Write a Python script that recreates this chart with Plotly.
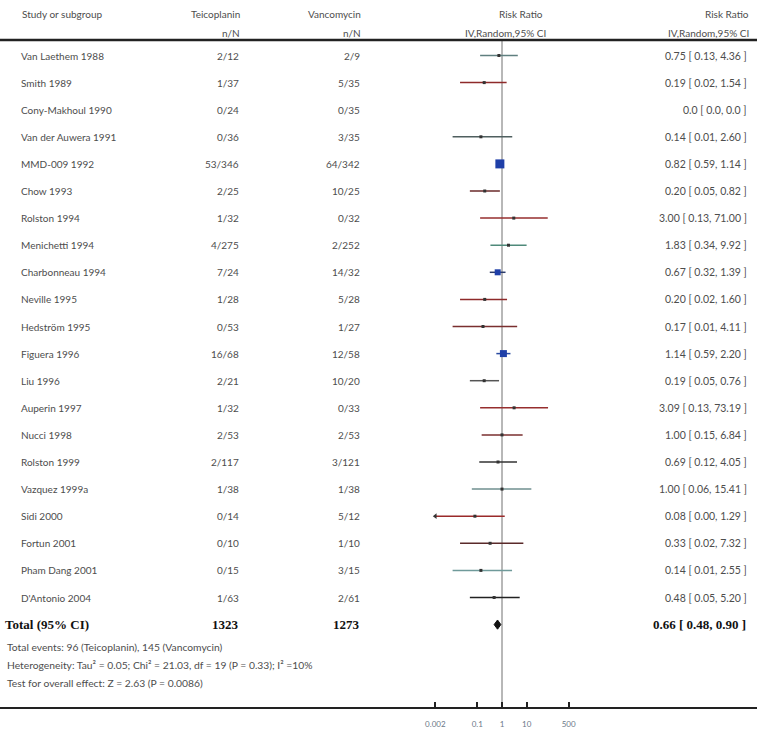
import plotly.graph_objects as go

# ---------------- data ----------------
studies = ["Van Laethem 1988", "Smith 1989", "Cony-Makhoul 1990", "Van der Auwera 1991",
           "MMD-009 1992", "Chow 1993", "Rolston 1994", "Menichetti 1994",
           "Charbonneau 1994", "Neville 1995", "Hedström 1995", "Figuera 1996",
           "Liu 1996", "Auperin 1997", "Nucci 1998", "Rolston 1999", "Vazquez 1999a",
           "Sidi 2000", "Fortun 2001", "Pham Dang 2001", "D'Antonio 2004"]
teico = ["2/12", "1/37", "0/24", "0/36", "53/346", "2/25", "1/32", "4/275", "7/24", "1/28",
         "0/53", "16/68", "2/21", "1/32", "2/53", "2/117", "1/38", "0/14", "0/10", "0/15", "1/63"]
vanco = ["2/9", "5/35", "0/35", "3/35", "64/342", "10/25", "0/32", "2/252", "14/32", "5/28",
         "1/27", "12/58", "10/20", "0/33", "2/53", "3/121", "1/38", "5/12", "1/10", "3/15", "2/61"]
rr = [0.75, 0.19, 0.0, 0.14, 0.82, 0.20, 3.00, 1.83, 0.67, 0.20, 0.17, 1.14, 0.19, 3.09,
      1.00, 0.69, 1.00, 0.08, 0.33, 0.14, 0.48]
lo = [0.13, 0.02, 0.0, 0.01, 0.59, 0.05, 0.13, 0.34, 0.32, 0.02, 0.01, 0.59, 0.05, 0.13,
      0.15, 0.12, 0.06, 0.00, 0.02, 0.01, 0.05]
hi = [4.36, 1.54, 0.0, 2.60, 1.14, 0.82, 71.00, 9.92, 1.39, 1.60, 4.11, 2.20, 0.76, 73.19,
      6.84, 4.05, 15.41, 1.29, 7.32, 2.55, 5.20]
total_label = "Total (95% CI)"
total_teico = 1323
total_vanco = 1273
total_rr, total_lo, total_hi = 0.66, 0.48, 0.90
tick_vals = [0.002, 0.1, 1, 10, 500]
tick_text = ["0.002", "0.1", "1", "10", "500"]
footer = ["Total events: 96 (Teicoplanin), 145 (Vancomycin)",
          "Heterogeneity: Tau² = 0.05; Chi² = 21.03, df = 19 (P = 0.33); I² =10%",
          "Test for overall effect: Z = 2.63 (P = 0.0086)"]

# ---------------- styles ----------------
W, H = 757, 738
BODY = "Lato"
TXT = "#4d4d4d"
line_colors = ["#5f7f7f", "#8e2a2a", "#555555", "#4f5f5f", "#2a4aa0", "#6a2a2a", "#962e2e",
               "#4f8a7a", "#2a3a6a", "#8e2a2a", "#7a2f2f", "#2a4aa0", "#555555", "#962e2e",
               "#7a2f2f", "#333333", "#6f8f8f", "#9a2a2a", "#5a2a2a", "#6f9a9a", "#222222"]
box_px = [3, 3, 3, 3, 9, 3, 3, 3, 6, 3, 3, 7, 3, 3, 3, 3, 3, 3, 3, 3, 3]
box_colors = ["#333333"] * len(studies)
for i in (4, 8, 11):
    box_colors[i] = "#1f3fa8"

ROW0, STEP = 55.5, 27.1          # pixel of first row, pixel step per row
AXIS_PX = 707                     # pixel of bottom axis line
X1_PX, PX_DEC = 502.0, 24.7       # pixel of RR=1, pixels per decade

def py(y):
    return 1 - y / H

fig = go.Figure()

# CI lines and boxes
for i in range(len(studies)):
    if hi[i] <= 0:
        continue
    xl = max(lo[i], tick_vals[0])
    fig.add_trace(go.Scatter(x=[xl, hi[i]], y=[i, i], mode="lines",
                             line=dict(color=line_colors[i], width=1.5),
                             hoverinfo="skip", showlegend=False))
    if lo[i] < tick_vals[0]:
        fig.add_trace(go.Scatter(x=[xl], y=[i], mode="markers",
                                 marker=dict(symbol="triangle-left", size=5,
                                             color="#333333"),
                                 hoverinfo="skip", showlegend=False))
    fig.add_trace(go.Scatter(x=[rr[i]], y=[i], mode="markers",
                             marker=dict(symbol="square", size=box_px[i],
                                         color=box_colors[i], line=dict(width=0)),
                             hoverinfo="skip", showlegend=False))

# total diamond
tr = len(studies)
fig.add_trace(go.Scatter(x=[total_lo, total_rr, total_hi, total_rr, total_lo],
                         y=[tr, tr - 0.17, tr, tr + 0.17, tr],
                         mode="lines", fill="toself", fillcolor="#111111",
                         line=dict(color="#111111", width=1),
                         hoverinfo="skip", showlegend=False))

ann = []

def add(text, x, y, anchor, yref="paper", size=10, color=TXT, family=BODY):
    ann.append(dict(text=text, x=x / W, y=y, xref="paper", yref=yref,
                    xanchor=anchor, yanchor="middle", showarrow=False,
                    font=dict(size=size, color=color, family=family)))

# headers
add("Study or subgroup", 20, py(14), "left")
add("Teicoplanin", 242, py(14), "right")
add("n/N", 242, py(33), "right")
add("Vancomycin", 363, py(14), "right")
add("n/N", 363, py(33), "right")
add("Risk Ratio", 521, py(14), "center")
add("IV,Random,95% CI", 506, py(33), "center")
add("Risk Ratio", 751, py(14), "right")
add("IV,Random,95% CI", 751, py(33), "right")

# rows
for i, s in enumerate(studies):
    add(s, 19, i, "left", yref="y")
    add(teico[i], 241, i, "right", yref="y")
    add(vanco[i], 362, i, "right", yref="y")
    if hi[i] <= 0:
        t = "0.0 [ 0.0, 0.0 ]"
    else:
        t = f"{rr[i]:.2f} [ {lo[i]:.2f}, {hi[i]:.2f} ]"
    add(t, 749, i, "right", yref="y", size=10.5)

# total row
SERIF = "Liberation Serif"
add(f"<b>{total_label}</b>", 3, tr, "left", yref="y", size=13, color="#111", family=SERIF)
add(f"<b>{total_teico}</b>", 241, tr, "right", yref="y", size=13, color="#111", family=SERIF)
add(f"<b>{total_vanco}</b>", 362, tr, "right", yref="y", size=13, color="#111", family=SERIF)
add(f"<b>{total_rr:.2f} [ {total_lo:.2f}, {total_hi:.2f} ]</b>", 748, tr, "right",
    yref="y", size=13, color="#111", family=SERIF)

# footer
for k, f in enumerate(footer):
    add(f, 5, py(647 + 18 * k), "left", size=10.3)

x_lo = (0 - X1_PX) / PX_DEC
x_hi = (W - X1_PX) / PX_DEC
y_top = (0 - ROW0) / STEP
y_bot = (AXIS_PX - ROW0) / STEP

fig.update_layout(
    width=W, height=H, margin=dict(l=0, r=0, t=0, b=0),
    paper_bgcolor="white", plot_bgcolor="white",
    annotations=ann,
    shapes=[
        dict(type="line", xref="paper", yref="paper", x0=0, x1=1, y0=py(40), y1=py(40),
             line=dict(color="#222222", width=2.5)),
        dict(type="line", xref="x", yref="paper", x0=1, x1=1, y0=py(AXIS_PX), y1=py(41),
             line=dict(color="#707070", width=1), layer="below"),
    ],
    xaxis=dict(type="log", range=[x_lo, x_hi], domain=[0, 1], showgrid=False,
               zeroline=False, showline=True, linecolor="#222222", linewidth=2,
               ticks="inside", ticklen=5, tickwidth=1.5, tickcolor="#222222",
               tickvals=tick_vals, ticktext=tick_text, ticklabelstandoff=8,
               tickfont=dict(size=8, color="#6a7888", family=BODY), fixedrange=True),
    yaxis=dict(range=[y_bot, y_top], domain=[1 - AXIS_PX / H, 1], visible=False,
               fixedrange=True),
)

fig.write_html("out.html")
